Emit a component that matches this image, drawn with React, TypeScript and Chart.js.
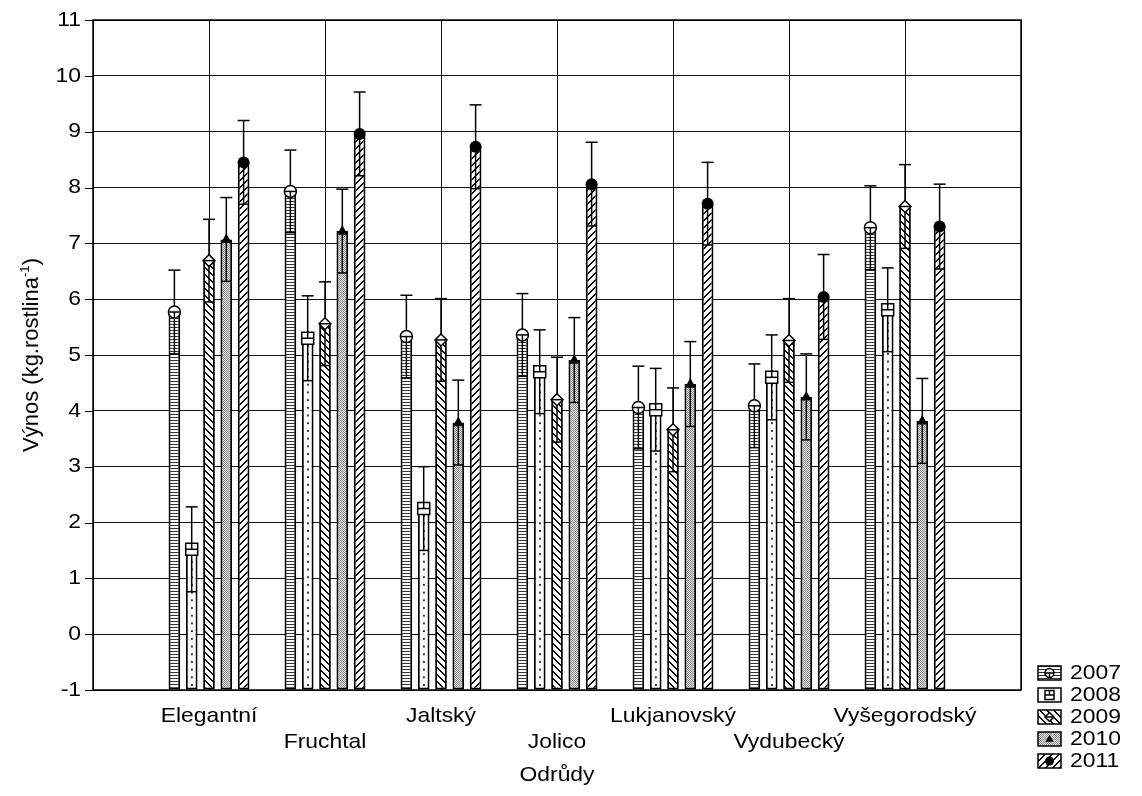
import { useEffect, useRef } from 'react';
import { Chart, registerables } from 'chart.js';
Chart.register(...registerables);

const categories = ['Elegantní', 'Fruchtal', 'Jaltský', 'Jolico', 'Lukjanovský', 'Vydubecký', 'Vyšegorodský'];
const years = ['2007', '2008', '2009', '2010', '2011'];
const v2007 = [5.77, 7.93, 5.33, 5.36, 4.06, 4.09, 7.28];
const v2008 = [1.52, 5.30, 2.25, 4.70, 4.02, 4.60, 5.81];
const v2009 = [6.69, 5.56, 5.27, 4.20, 3.66, 5.26, 7.66];
const v2010 = [7.07, 7.22, 3.79, 4.91, 4.48, 4.25, 3.82];
const v2011 = [8.45, 8.96, 8.73, 8.06, 7.71, 6.04, 7.30];
const e2007 = [0.75, 0.74, 0.74, 0.74, 0.74, 0.75, 0.75];
const e2008 = [0.76, 0.76, 0.75, 0.75, 0.74, 0.76, 0.75];
const e2009 = [0.74, 0.75, 0.74, 0.76, 0.75, 0.75, 0.75];
const e2010 = [0.75, 0.75, 0.76, 0.76, 0.76, 0.77, 0.76];
const e2011 = [0.75, 0.75, 0.75, 0.75, 0.74, 0.76, 0.76];
const yTickValues = [-1, 0, 1, 2, 3, 4, 5, 6, 7, 8, 9, 10, 11];
const xTitle = 'Odrůdy';
const yTitleMain = 'Výnos (kg.rostlina';
const yTitleSup = '-1';
const yTitleEnd = ')';

const seriesValues = [v2007, v2008, v2009, v2010, v2011];
const seriesErrors = [e2007, e2008, e2009, e2010, e2011];
const kinds = ['hlines', 'blank', 'back', 'stipple', 'fwd'];
const markers = ['circleLine', 'square', 'diamond', 'triangle', 'dot'];

const FONT_PX = 21;
const SX = 1.09;
const FONT_FAMILY = '"Liberation Sans", Arial, sans-serif';

function makePattern(kind: string): CanvasPattern | string {
  const c = document.createElement('canvas');
  const ctx = c.getContext('2d')!;
  if (kind === 'blank') return '#ffffff';
  if (kind === 'hlines') {
    c.width = 4; c.height = 3;
    ctx.fillStyle = '#fff'; ctx.fillRect(0, 0, 4, 3);
    ctx.fillStyle = '#333'; ctx.fillRect(0, 0, 4, 1);
  } else if (kind === 'stipple') {
    c.width = 2; c.height = 2;
    ctx.fillStyle = '#e6e6e6'; ctx.fillRect(0, 0, 2, 2);
    ctx.fillStyle = '#8a8a8a'; ctx.fillRect(0, 0, 1, 1); ctx.fillRect(1, 1, 1, 1);
  } else {
    const n = 7;
    c.width = n; c.height = n;
    ctx.fillStyle = '#fff'; ctx.fillRect(0, 0, n, n);
    ctx.fillStyle = '#000';
    for (let i = 0; i < n; i++) {
      if (kind === 'back') {
        ctx.fillRect(i, i, 1, 1);
        ctx.fillRect((i + 1) % n, i, 1, 1);
      } else {
        ctx.fillRect(n - 1 - i, i, 1, 1);
        ctx.fillRect((n - i) % n, i, 1, 1);
      }
    }
  }
  return ctx.createPattern(c, 'repeat')!;
}

function drawText(ctx: CanvasRenderingContext2D, s: string, x: number, y: number, align: CanvasTextAlign, size = FONT_PX) {
  ctx.save();
  ctx.font = `${size}px ${FONT_FAMILY}`;
  ctx.textBaseline = 'middle';
  ctx.textAlign = align;
  ctx.fillStyle = '#000';
  ctx.translate(x, y);
  ctx.scale(SX, 1);
  ctx.fillText(s, 0, 0);
  ctx.restore();
}

function drawMarker(ctx: CanvasRenderingContext2D, kind: string, x: number, y: number, r: number) {
  ctx.save();
  ctx.lineWidth = 1.5;
  ctx.strokeStyle = '#000';
  ctx.fillStyle = '#fff';
  ctx.beginPath();
  if (kind === 'circleLine') {
    ctx.arc(x, y, r, 0, Math.PI * 2);
    ctx.fill(); ctx.stroke();
    ctx.beginPath(); ctx.moveTo(x - r, y); ctx.lineTo(x + r, y); ctx.stroke();
    ctx.beginPath(); ctx.moveTo(x, y); ctx.lineTo(x, y + r); ctx.stroke();
  } else if (kind === 'square') {
    ctx.rect(x - r, y - r, 2 * r, 2 * r);
    ctx.fill(); ctx.stroke();
    ctx.beginPath(); ctx.moveTo(x - r, y); ctx.lineTo(x + r, y); ctx.stroke();
    ctx.beginPath(); ctx.moveTo(x, y - r); ctx.lineTo(x, y); ctx.stroke();
  } else if (kind === 'diamond') {
    ctx.moveTo(x, y - r); ctx.lineTo(x + r, y); ctx.lineTo(x, y + r); ctx.lineTo(x - r, y); ctx.closePath();
    ctx.fill(); ctx.stroke();
    ctx.beginPath(); ctx.moveTo(x - r, y); ctx.lineTo(x + r, y); ctx.stroke();
  } else if (kind === 'triangle') {
    ctx.fillStyle = '#000';
    ctx.moveTo(x, y - r); ctx.lineTo(x + r * 0.9, y + r * 0.6); ctx.lineTo(x - r * 0.9, y + r * 0.6); ctx.closePath();
    ctx.fill();
  } else {
    ctx.fillStyle = '#000';
    ctx.arc(x, y, r, 0, Math.PI * 2);
    ctx.fill();
  }
  ctx.restore();
}

export default function App() {
  const ref = useRef<HTMLCanvasElement>(null);
  useEffect(() => {
    document.body.style.margin = '0';
    const patterns = kinds.map(makePattern);
    const labels = ['', ...categories, ''];

    const overlay = {
      id: 'overlay',
      beforeDatasetsDraw(chart: any) {
        const ctx = chart.ctx as CanvasRenderingContext2D;
        const ys = chart.scales.y;
        const a = chart.chartArea;
        ctx.save();
        ctx.strokeStyle = '#000';
        ctx.lineWidth = 1.5;
        ctx.strokeRect(a.left, a.top, a.right - a.left, a.bottom - a.top);
        ctx.lineWidth = 1;
        for (const t of ys.ticks) {
          const py = Math.round(ys.getPixelForValue(t.value)) + 0.5;
          ctx.beginPath(); ctx.moveTo(a.left - 8, py); ctx.lineTo(a.left, py); ctx.stroke();
        }
        ctx.restore();
      },
      afterDatasetsDraw(chart: any) {
        const ctx = chart.ctx as CanvasRenderingContext2D;
        const ys = chart.scales.y;
        const xs = chart.scales.x;
        const a = chart.chartArea;
        seriesValues.forEach((vals, di) => {
          const meta = chart.getDatasetMeta(di);
          vals.forEach((v, j) => {
            const el = meta.data[j + 1];
            if (!el) return;
            const x = el.x;
            const w = el.width;
            const py = ys.getPixelForValue(v);
            const hi = ys.getPixelForValue(v + seriesErrors[di][j]);
            const lo = ys.getPixelForValue(v - seriesErrors[di][j]);
            ctx.save();
            if (kinds[di] === 'blank') {
              ctx.fillStyle = '#000';
              for (let yy = a.bottom - 6; yy > py + 4; yy -= 7.7) ctx.fillRect(x - 0.5, yy, 1.5, 2);
            }
            ctx.strokeStyle = '#000';
            ctx.lineWidth = 1.5;
            ctx.beginPath(); ctx.moveTo(x, lo); ctx.lineTo(x, hi); ctx.stroke();
            ctx.beginPath(); ctx.moveTo(x - 6, hi); ctx.lineTo(x + 6, hi); ctx.stroke();
            ctx.beginPath(); ctx.moveTo(x - w / 2 + 1, lo); ctx.lineTo(x + w / 2 - 1, lo); ctx.stroke();
            ctx.restore();
            drawMarker(ctx, markers[di], x, py, 6);
          });
        });

        // y tick labels
        for (const t of ys.ticks) drawText(ctx, String(t.value), a.left - 12, ys.getPixelForValue(t.value), 'right');
        // category labels (staggered)
        categories.forEach((c, i) => {
          drawText(ctx, c, xs.getPixelForValue(i + 1), i % 2 === 0 ? a.bottom + 26 : a.bottom + 52, 'center');
        });
        // x title
        drawText(ctx, xTitle, (a.left + a.right) / 2, a.bottom + 85, 'center');
        // y title
        ctx.save();
        ctx.translate(32, (a.top + a.bottom) / 2);
        ctx.rotate(-Math.PI / 2);
        ctx.fillStyle = '#000';
        ctx.textBaseline = 'middle';
        const fs = 22;
        const f1 = `${fs}px ${FONT_FAMILY}`;
        const f2 = `${fs * 0.6}px ${FONT_FAMILY}`;
        ctx.font = f1; const w1 = ctx.measureText(yTitleMain).width; const w3 = ctx.measureText(yTitleEnd).width;
        ctx.font = f2; const w2 = ctx.measureText(yTitleSup).width;
        let tx = -(w1 + w2 + w3) / 2;
        ctx.font = f1; ctx.textAlign = 'left';
        ctx.fillText(yTitleMain, tx, 0); tx += w1;
        ctx.font = f2; ctx.fillText(yTitleSup, tx, -7); tx += w2;
        ctx.font = f1; ctx.fillText(yTitleEnd, tx, 0);
        ctx.restore();

        // legend
        years.forEach((yr, k) => {
          const cy = 673 + k * 22;
          const bx = 1038, bw = 23, bh = 14;
          ctx.save();
          ctx.fillStyle = patterns[k] as any;
          ctx.fillRect(bx, cy - bh / 2, bw, bh);
          ctx.strokeStyle = '#000'; ctx.lineWidth = 1.5;
          ctx.strokeRect(bx, cy - bh / 2, bw, bh);
          ctx.restore();
          drawMarker(ctx, markers[k], bx + bw / 2, cy, 4.5);
          drawText(ctx, yr, 1070, cy, 'left');
        });
      },
    };

    const chart = new Chart(ref.current!, {
      type: 'bar',
      data: {
        labels,
        datasets: seriesValues.map((vals, di) => ({
          label: years[di],
          data: [null, ...vals, null],
          base: -1,
          backgroundColor: patterns[di] as any,
          borderColor: '#000',
          borderWidth: 2,
          borderSkipped: false,
          categoryPercentage: 0.746,
          barPercentage: 0.676,
        })),
      },
      options: {
        animation: false,
        responsive: true,
        maintainAspectRatio: false,
        devicePixelRatio: 1,
        layout: { padding: { top: 20, right: 121, left: 0, bottom: 0 } },
        plugins: { legend: { display: false }, tooltip: { enabled: false } },
        scales: {
          x: {
            type: 'category',
            offset: false,
            grid: { color: '#111', lineWidth: 1, drawTicks: false, offset: false },
            border: { display: false },
            ticks: { display: false },
            afterFit: (s: any) => { s.height = 106; },
          },
          y: {
            min: -1,
            max: 11,
            afterBuildTicks: (s: any) => { s.ticks = yTickValues.map((value) => ({ value })); },
            grid: { color: '#111', lineWidth: 1, drawTicks: false },
            border: { display: false },
            ticks: { display: false },
            afterFit: (s: any) => { s.width = 93; },
          },
        },
      },
      plugins: [overlay],
    } as any);
    return () => chart.destroy();
  }, []);
  return (
    <div style={{ width: 1142, height: 796, position: 'relative' }}>
      <canvas ref={ref} />
    </div>
  );
}
